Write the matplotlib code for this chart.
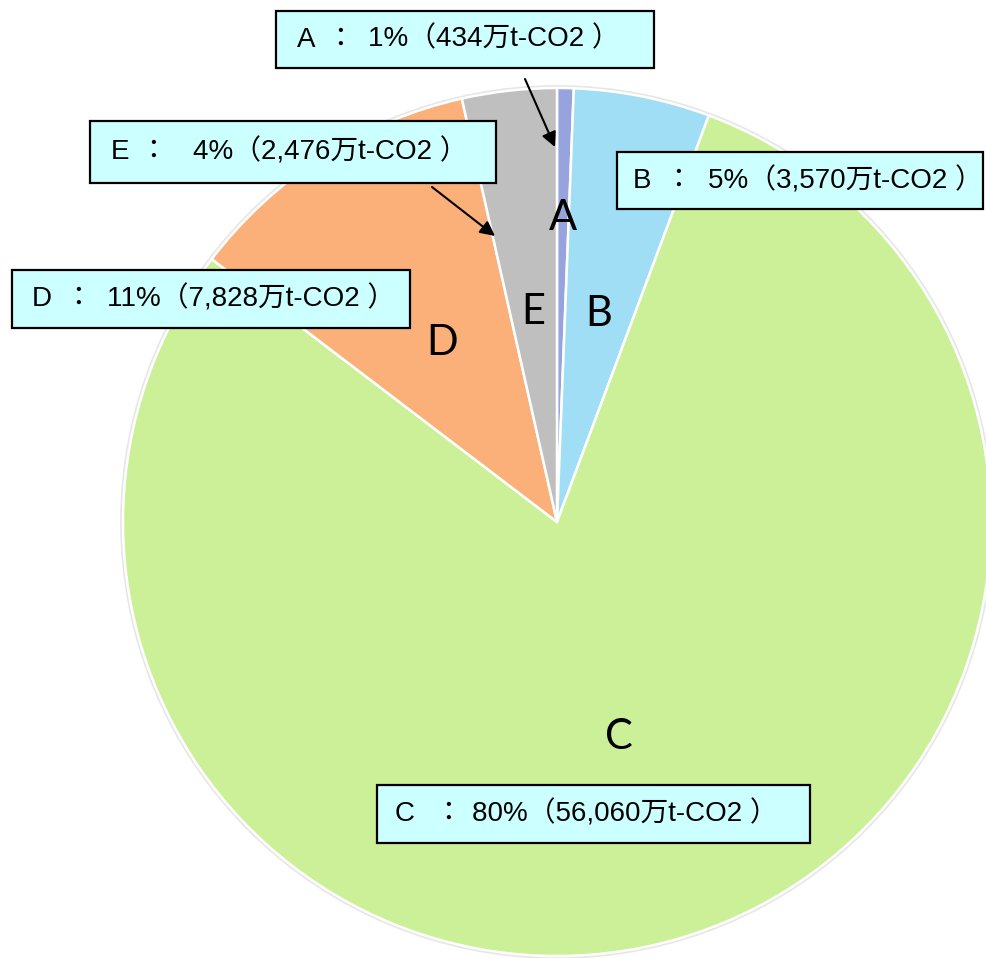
import numpy as np
import matplotlib.pyplot as plt
from matplotlib.patches import Rectangle, Circle

# -----------------------------
# Data
# -----------------------------
names = ["A", "B", "C", "D", "E"]
values = [434, 3570, 56060, 7828, 2476]          # 万t-CO2
percent_labels = ["1%", "5%", "80%", "11%", "4%"]
amount_labels = ["434", "3,570", "56,060", "7,828", "2,476"]
colors = ["#97a3dc", "#a0def5", "#ccf097", "#fbb079", "#bfbfbf"]

W, H = 986, 958
JP_FONT = ["Liberation Sans", "Noto Sans CJK JP", "DejaVu Sans"]

fig = plt.figure(figsize=(W / 100, H / 100), dpi=100)
ax = fig.add_axes([0, 0, 1, 1])


def Y(y):
    # image (top-down) pixel -> plot coordinate
    return H - y


# -----------------------------
# Pie
# -----------------------------
cx, cy, r = 557, Y(522), 434
ax.add_patch(Circle((cx, cy), r + 1.5, facecolor="none", edgecolor="#e6e6e6", lw=2, zorder=0))
wedges, _ = ax.pie(values, colors=colors, startangle=90, counterclock=False,
                   center=(cx, cy), radius=r,
                   wedgeprops=dict(edgecolor="white", linewidth=1.8))

# letters inside the slices
label_dist = [0.70, 0.49, 0.515, 0.49, 0.486]
for w, name, d in zip(wedges, names, label_dist):
    mid = np.deg2rad((w.theta1 + w.theta2) / 2)
    ax.text(cx + d * r * np.cos(mid), cy + d * r * np.sin(mid), name,
            ha="center", va="center", fontsize=30, family=["Lato", "DejaVu Sans"])

# -----------------------------
# Callout boxes
# -----------------------------
# box (x0, y0, x1, y1), letter x, colon x, number x  (image pixels)
boxes = {
    "A": ((276, 11, 654, 68), 297, 340, 368),
    "B": ((617, 152, 983, 209), 633, 678, 708),
    "C": ((377, 785, 810, 843), 395, 448, 472),
    "D": ((12, 270, 410, 328), 32, 78, 107),
    "E": ((90, 121, 496, 183), 111, 153, 193),
}

for name, pct, amt in zip(names, percent_labels, amount_labels):
    (x0, y0, x1, y1), xl, xc, xn = boxes[name]
    ax.add_patch(Rectangle((x0, Y(y1)), x1 - x0, y1 - y0, facecolor="#ccffff",
                           edgecolor="black", lw=1.6, zorder=3))
    yc = Y((y0 + y1) / 2)
    ax.text(xl, yc, name, ha="left", va="center", fontsize=20, family=JP_FONT, zorder=4)
    ax.text(xc, yc, "：", ha="center", va="center", fontsize=20, family=JP_FONT, zorder=4)
    ax.text(xn, yc, f"{pct}（{amt}万t-CO2 ）", ha="left", va="center",
            fontsize=20, family=JP_FONT, zorder=4)

# arrows for the thin slices
arrow_kw = dict(arrowstyle="-|>", color="black", lw=1.5, mutation_scale=22,
                shrinkA=0, shrinkB=0)
ax.annotate("", xy=(555, Y(147)), xytext=(525, Y(79)), arrowprops=arrow_kw, zorder=5)
ax.annotate("", xy=(495, Y(236)), xytext=(432, Y(187)), arrowprops=arrow_kw, zorder=5)

ax.set_xlim(0, W)
ax.set_ylim(0, H)
ax.set_aspect("equal")
ax.axis("off")

fig.savefig("out.png", dpi=100, facecolor="white")
